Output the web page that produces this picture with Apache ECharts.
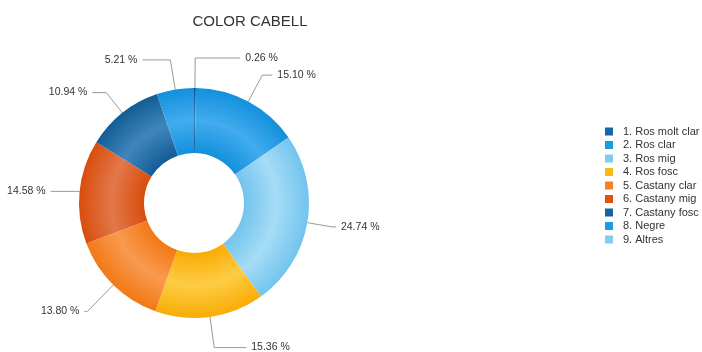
<!DOCTYPE html>
<html>
<head>
<meta charset="utf-8">
<script src="https://cdn.jsdelivr.net/npm/echarts@6/dist/echarts.min.js"></script>
<style>
  html, body { margin: 0; padding: 0; background: #fff; }
  #chart { width: 702px; height: 352px; }
</style>
</head>
<body>
<div id="chart"></div>
<script>
// Hair colour shares (percent)
const categories = [
  '1. Ros molt clar', '2. Ros clar', '3. Ros mig', '4. Ros fosc',
  '5. Castany clar', '6. Castany mig', '7. Castany fosc', '8. Negre', '9. Altres'
];
const shares = [0.26, 15.10, 24.74, 15.36, 13.80, 14.58, 10.94, 5.21, 0];

// base / edge / highlight tones for each slice
const baseColors  = ['#1665a6', '#1a9be6', '#7fcbf1', '#fdb813', '#f5841f', '#df520f', '#16649f', '#1a9be6', '#7fcbf1'];
const edgeColors  = ['#0f568f', '#1390dd', '#72c4ee', '#f9ac05', '#f27815', '#d94d0c', '#135d97', '#1390dd', '#72c4ee'];
const lightColors = ['#3a80b8', '#42acee', '#a6dcf6', '#fdcc45', '#f89a50', '#e2784a', '#3f86bb', '#42acee', '#a6dcf6'];

// connector segment lengths per slice: [radial, horizontal]
const connectors = [[30, 45], [30, 10], [25, 4], [31, 32], [37, 3], [4, 25], [26, 14], [30, 28], [0, 0]];

const cx = 194, cy = 203, rIn = 50, rOut = 115;

function ringShade(i) {
  const f = rIn / rOut;
  return new echarts.graphic.RadialGradient(cx, cy, rOut, [
    { offset: 0, color: edgeColors[i] },
    { offset: f, color: edgeColors[i] },
    { offset: f + (1 - f) * 0.5, color: lightColors[i] },
    { offset: 1, color: edgeColors[i] }
  ], true);
}

const chart = echarts.init(document.getElementById('chart'), null, { renderer: 'canvas' });

const seriesData = categories.map((name, i) => {
  const item = {
    name: name,
    value: shares[i],
    itemStyle: { color: ringShade(i) },
    labelLine: { length: connectors[i][0], length2: connectors[i][1] }
  };
  if (shares[i] === 0) {
    item.label = { show: false };
    item.labelLine = { show: false };
  }
  return item;
});

chart.setOption({
  animation: false,
  color: baseColors,
  title: {
    text: 'COLOR CABELL',
    left: 245,
    textAlign: 'center',
    top: 9,
    textStyle: { fontFamily: 'Liberation Sans, Arial, sans-serif', fontSize: 15, fontWeight: 'normal', color: '#333' }
  },
  legend: {
    orient: 'vertical',
    left: 600,
    top: 121,
    icon: 'rect',
    itemWidth: 8,
    itemHeight: 8,
    itemGap: 2.5,
    data: categories.map((name, i) => ({ name: name, itemStyle: { color: baseColors[i] } })),
    textStyle: { fontFamily: 'Liberation Sans, Arial, sans-serif', fontSize: 11, color: '#333', padding: [0, 0, 0, 5] }
  },
  series: [{
    type: 'pie',
    center: [cx, cy],
    radius: [rIn, rOut],
    startAngle: 90,
    clockwise: true,
    avoidLabelOverlap: false,
    data: seriesData,
    itemStyle: { borderWidth: 0 },
    label: {
      show: true,
      position: 'outside',
      overflow: 'none',
      formatter: p => p.value.toFixed(2) + ' %',
      fontFamily: 'Liberation Sans, Arial, sans-serif',
      fontSize: 10.5,
      color: '#333',
      distanceToLabelLine: 5
    },
    labelLine: {
      show: true,
      lineStyle: { color: '#999', width: 1 }
    },
    emphasis: { disabled: true }
  }]
});
</script>
</body>
</html>
